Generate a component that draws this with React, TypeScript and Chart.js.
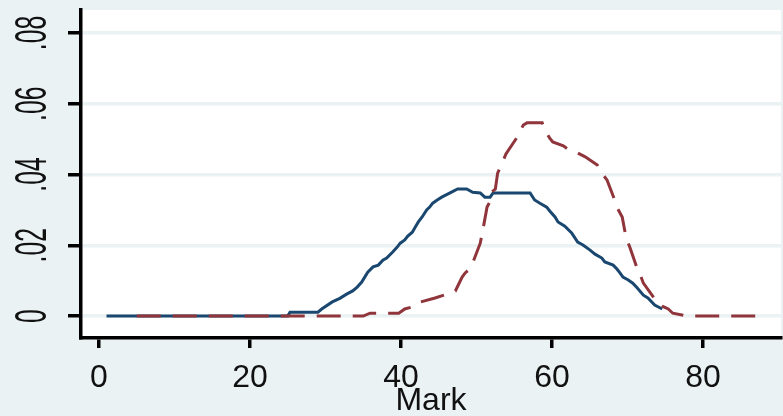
import React, { useEffect, useRef } from "react";
import { Chart, registerables } from "chart.js";

Chart.register(...registerables);

// Blue (solid) series: x = Mark, y = density
const blueMark = [1, 25, 25.3, 29, 29.5, 30.9, 31.9, 32.8, 33.6, 34.2, 34.8, 35.2, 35.6, 36.3, 37.0, 37.6, 38.1, 38.9, 39.5, 39.9, 40.5, 40.9, 41.5, 41.9, 42.3, 42.8, 43.4, 43.8, 44.2, 44.8, 45.4, 46.5, 47.5, 48.7, 49.5, 50.5, 51.1, 51.8, 52.2, 57.1, 57.7, 58.4, 59.3, 59.7, 60.4, 60.8, 61.7, 62.6, 63.4, 64.1, 65.0, 65.7, 66.6, 67.0, 68.1, 68.6, 69.0, 69.4, 70.1, 70.7, 71.3, 72.1, 72.7, 73.6, 74.6];
const blueDensity = [0, 0, 0.0011, 0.0011, 0.002, 0.004, 0.005, 0.0062, 0.0071, 0.0082, 0.0096, 0.011, 0.0124, 0.0139, 0.0144, 0.0158, 0.0164, 0.0181, 0.0195, 0.0206, 0.0215, 0.0226, 0.0237, 0.0252, 0.0266, 0.028, 0.030, 0.0308, 0.0319, 0.0328, 0.0336, 0.0348, 0.0359, 0.0359, 0.035, 0.0348, 0.0336, 0.0336, 0.0348, 0.0348, 0.0328, 0.0319, 0.0308, 0.0297, 0.028, 0.0266, 0.0254, 0.0235, 0.0209, 0.0201, 0.0187, 0.0175, 0.0164, 0.0153, 0.0144, 0.0133, 0.0122, 0.011, 0.0102, 0.0093, 0.0079, 0.0059, 0.0051, 0.0031, 0.002];

// Red (dashed) series
const redMark = [5, 35, 35.9, 39.7, 40.5, 41.9, 42.6, 44.5, 45.8, 47.2, 48.1, 48.5, 49.1, 49.5, 50.5, 50.9, 51.4, 51.9, 52.0, 52.5, 52.8, 53.4, 53.9, 55.4, 55.8, 56.2, 56.7, 58.7, 59.2, 59.7, 60.1, 61.5, 62.1, 63.4, 64.4, 66.0, 66.6, 67.3, 68.3, 68.7, 69.3, 69.8, 70.3, 71.3, 71.7, 72.1, 73.9, 74.6, 75.4, 76.0, 77.9, 87];
const redDensity = [0, 0, 0.0008, 0.0008, 0.002, 0.0028, 0.004, 0.0051, 0.006, 0.0071, 0.011, 0.0122, 0.0133, 0.015, 0.0206, 0.025, 0.0308, 0.0328, 0.035, 0.0359, 0.0404, 0.0432, 0.0458, 0.0506, 0.0523, 0.054, 0.0546, 0.0546, 0.052, 0.0503, 0.0492, 0.0481, 0.0472, 0.0461, 0.045, 0.0427, 0.0404, 0.0384, 0.0328, 0.0303, 0.028, 0.0223, 0.0195, 0.0133, 0.0116, 0.0093, 0.004, 0.0028, 0.002, 0.0008, 0, 0];

const xTickValues = [0, 20, 40, 60, 80];
const yTickValues = [0, 0.02, 0.04, 0.06, 0.08];
const yTickLabels = ["0", ".02", ".04", ".06", ".08"];
const xTitle = "Mark";

const BG = "#eaf2f3";
const FONT = "'Liberation Sans', Arial, sans-serif";

export default function App() {
  const ref = useRef<HTMLCanvasElement | null>(null);

  useEffect(() => {
    document.body.style.margin = "0";
    document.body.style.background = BG;
    const canvas = ref.current;
    if (!canvas) return;

    const plotBg = {
      id: "plotBg",
      beforeDraw(chart: any) {
        const { ctx, chartArea } = chart;
        ctx.save();
        ctx.fillStyle = BG;
        ctx.fillRect(0, 0, chart.width, chart.height);
        ctx.fillStyle = "#ffffff";
        ctx.fillRect(chartArea.left, chartArea.top, chartArea.right - chartArea.left, chartArea.bottom - chartArea.top);
        ctx.restore();
      },
    };

    const yLabels = {
      id: "yLabels",
      afterDraw(chart: any) {
        const { ctx } = chart;
        const ys = chart.scales.y;
        ctx.save();
        ctx.fillStyle = "#111";
        ctx.font = `44px ${FONT}`;
        ctx.textAlign = "center";
        ctx.textBaseline = "middle";
        yTickValues.forEach((v, i) => {
          const py = ys.getPixelForValue(v);
          ctx.save();
          ctx.translate(34, py);
          ctx.rotate(-Math.PI / 2);
          ctx.scale(0.56, 1);
          ctx.fillText(yTickLabels[i], 0, 0);
          ctx.restore();
        });
        ctx.restore();
      },
    };

    const chart = new Chart(canvas, {
      type: "line",
      data: {
        datasets: [
          {
            data: redMark.map((x, i) => ({ x, y: redDensity[i] })),
            borderColor: "#90353b",
            borderWidth: 3,
            borderDash: [24, 12],
            pointRadius: 0,
            tension: 0,
            fill: false,
          },
          {
            data: blueMark.map((x, i) => ({ x, y: blueDensity[i] })),
            borderColor: "#1a476f",
            borderWidth: 3,
            pointRadius: 0,
            tension: 0,
            fill: false,
          },
        ],
      },
      options: {
        responsive: false,
        animation: false,
        events: [],
        layout: { padding: { top: 10, right: 2, left: 0, bottom: 0 } },
        plugins: { legend: { display: false }, tooltip: { enabled: false } },
        scales: {
          x: {
            type: "linear",
            min: -2.38,
            max: 90.33,
            afterBuildTicks: (s: any) => {
              s.ticks = xTickValues.map((v) => ({ value: v }));
            },
            afterFit: (s: any) => {
              s.height = 78;
            },
            grid: {
              drawOnChartArea: false,
              color: "#000",
              tickColor: "#000",
              tickLength: 10,
              lineWidth: 3.5,
            },
            border: { display: true, color: "#000", width: 3.5 },
            ticks: {
              color: "#111",
              font: { family: FONT, size: 32 },
              padding: 11,
              maxRotation: 0,
              autoSkip: false,
              callback: (v: any) => String(v),
            },
            title: {
              display: true,
              text: xTitle,
              color: "#111",
              font: { family: FONT, size: 32 },
              padding: { top: 0, bottom: -4 },
            },
          },
          y: {
            type: "linear",
            min: -0.0062,
            max: 0.0865,
            afterBuildTicks: (s: any) => {
              s.ticks = yTickValues.map((v) => ({ value: v }));
            },
            afterFit: (s: any) => {
              s.width = 81;
            },
            grid: {
              color: BG,
              tickColor: "#000",
              tickLength: 13,
              lineWidth: 3.5,
            },
            border: { display: true, color: "#000", width: 3.5 },
            ticks: { display: false },
          },
        },
      },
      plugins: [plotBg, yLabels],
    });

    return () => chart.destroy();
  }, []);

  return <canvas ref={ref} width={783} height={416} style={{ display: "block" }} />;
}
